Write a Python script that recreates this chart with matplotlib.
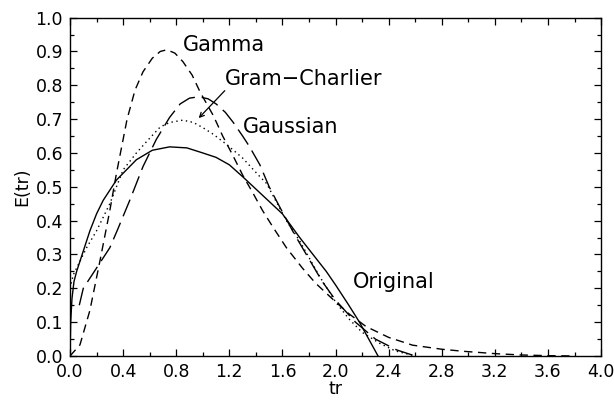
import matplotlib
matplotlib.use("Agg")
import matplotlib.pyplot as plt
from matplotlib.ticker import MultipleLocator

# ---- data ----
orig_x = [0.0, 0.005, 0.015, 0.03, 0.05, 0.1, 0.15, 0.2, 0.25, 0.35, 0.5, 0.62, 0.75, 0.88, 1.0,
          1.1, 1.2, 1.3, 1.45, 1.6, 1.73, 1.83, 1.93, 2.0, 2.1, 2.18, 2.25, 2.32]
orig_y = [0.0, 0.10, 0.17, 0.22, 0.25, 0.31, 0.37, 0.42, 0.46, 0.52, 0.58, 0.608, 0.618, 0.615, 0.60,
          0.587, 0.565, 0.53, 0.475, 0.42, 0.35, 0.30, 0.25, 0.21, 0.15, 0.10, 0.05, 0.0]

gauss_x = [0.0, 0.025, 0.125, 0.2, 0.25, 0.3, 0.4, 0.5, 0.58, 0.68, 0.75, 0.85, 0.93, 1.0, 1.08,
           1.18, 1.30, 1.43, 1.48, 1.63, 1.73, 1.83, 1.88, 2.0, 2.1, 2.2, 2.33, 2.45, 2.6]
gauss_y = [0.20, 0.24, 0.32, 0.37, 0.41, 0.45, 0.55, 0.60, 0.635, 0.677, 0.69, 0.697, 0.69, 0.675,
           0.655, 0.625, 0.585, 0.53, 0.51, 0.40, 0.34, 0.27, 0.235, 0.16, 0.11, 0.07, 0.038, 0.015, 0.0]

gamma_x = [0.0, 0.075, 0.15, 0.225, 0.3, 0.35, 0.43, 0.49, 0.55, 0.62, 0.68, 0.73, 0.79, 0.85,
           0.92, 0.98, 1.08, 1.15, 1.23, 1.30, 1.38, 1.45, 1.53, 1.63, 1.75, 1.85, 2.0, 2.1,
           2.23, 2.4, 2.58, 2.8, 2.96, 3.2, 3.4, 3.6, 3.8]
gamma_y = [0.0, 0.033, 0.135, 0.28, 0.43, 0.54, 0.70, 0.786, 0.84, 0.88, 0.90, 0.905, 0.895, 0.87,
           0.83, 0.78, 0.71, 0.65, 0.59, 0.535, 0.48, 0.43, 0.38, 0.32, 0.26, 0.215, 0.16, 0.125,
           0.087, 0.055, 0.032, 0.02, 0.014, 0.007, 0.003, 0.001, 0.0]

gc_x = [0.07, 0.1, 0.175, 0.3, 0.36, 0.45, 0.55, 0.65, 0.75, 0.83, 0.9, 0.97, 1.04, 1.1, 1.17,
        1.23, 1.3, 1.35, 1.43, 1.5, 1.58, 1.69, 1.78, 1.9, 2.0, 2.15, 2.3, 2.46, 2.6]
gc_y = [0.15, 0.20, 0.245, 0.32, 0.375, 0.46, 0.56, 0.64, 0.705, 0.745, 0.762, 0.766, 0.76, 0.745,
        0.72, 0.69, 0.65, 0.62, 0.565, 0.50, 0.44, 0.36, 0.30, 0.22, 0.165, 0.10, 0.05, 0.018, 0.0]

x_ticks = [0.0, 0.4, 0.8, 1.2, 1.6, 2.0, 2.4, 2.8, 3.2, 3.6, 4.0]
y_ticks = [0.0, 0.1, 0.2, 0.3, 0.4, 0.5, 0.6, 0.7, 0.8, 0.9, 1.0]

plt.rcParams['font.family'] = ['DejaVu Sans']

fig = plt.figure(figsize=(6.14, 4.0), dpi=100)
ax = fig.add_axes([0.114, 0.11, 0.865, 0.846])

lw = 1.0
ax.plot(orig_x, orig_y, color='black', lw=lw, linestyle='-')
ax.plot(gauss_x, gauss_y, color='black', lw=lw, linestyle=(0, (1, 2.5)))
ax.plot(gamma_x, gamma_y, color='black', lw=lw, linestyle=(0, (6, 4)))
ax.plot(gc_x, gc_y, color='black', lw=lw, linestyle=(0, (13, 5)))

ax.set_xlim(0, 4.0)
ax.set_ylim(0, 1.0)
ax.set_xticks(x_ticks)
ax.set_xticklabels([f"{v:.1f}" for v in x_ticks])
ax.set_yticks(y_ticks)
ax.set_yticklabels([f"{v:.1f}" for v in y_ticks])
ax.xaxis.set_minor_locator(MultipleLocator(0.2))
ax.yaxis.set_minor_locator(MultipleLocator(0.05))
ax.tick_params(which='both', direction='in', top=True, right=True, width=0.9, labelsize=12.5)
ax.tick_params(which='major', length=5, pad=5)
ax.tick_params(which='minor', length=3)
for s in ax.spines.values():
    s.set_linewidth(1.0)

ax.set_xlabel('tr', fontsize=12.5, labelpad=-1)
ax.set_ylabel('E(tr)', fontsize=12.5, labelpad=3)

fs = 15
ax.text(0.85, 0.92, 'Gamma', fontsize=fs, ha='left', va='center')
ax.text(1.17, 0.82, 'Gram\u2212Charlier', fontsize=fs, ha='left', va='center')
ax.text(1.30, 0.677, 'Gaussian', fontsize=fs, ha='left', va='center')
ax.text(2.13, 0.219, 'Original', fontsize=fs, ha='left', va='center')
ax.annotate('', xy=(0.955, 0.697), xytext=(1.18, 0.79),
            arrowprops=dict(arrowstyle='->', lw=0.9, color='black', mutation_scale=8))

fig.savefig('out.png', dpi=100)
